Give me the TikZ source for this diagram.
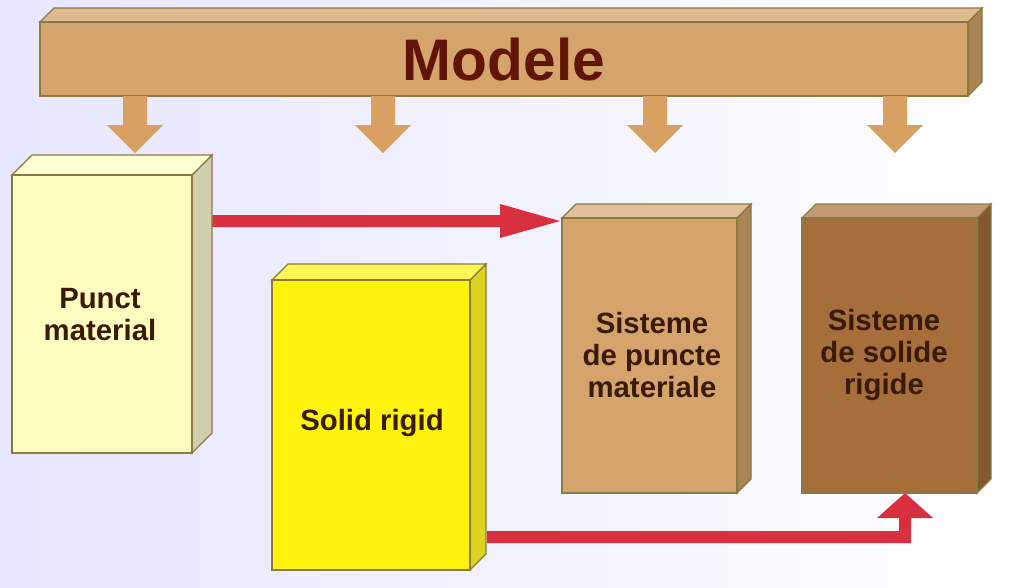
\documentclass[tikz,border=0pt]{standalone}
\usepackage{fontspec}
\setmainfont{Liberation Sans}
\definecolor{tan}{HTML}{D4A46C}
\definecolor{edge}{HTML}{8A7A40}
\definecolor{darktan}{HTML}{A56E3A}
\definecolor{redar}{HTML}{D9303F}
\definecolor{txt}{HTML}{3A1A0A}
\tikzset{lbl/.style={font=\bfseries\fontsize{22}{24}\selectfont,text=txt,align=center}}
\newcommand{\boxthree}[7]{% x1 y1 x2 y2 d front side
 \fill[#7,draw=edge,line width=1pt] (#3,#2)--(#3+#5,#2-#5)--(#3+#5,#4-#5)--(#3,#4)--cycle;
 \fill[#6!70!white,draw=edge,line width=1pt] (#1,#2)--(#1+#5,#2-#5)--(#3+#5,#2-#5)--(#3,#2)--cycle;
 \fill[#6,draw=edge,line width=1pt] (#1,#2) rectangle (#3,#4);}
\newcommand{\downar}[1]{\fill[tan!90!orange] (#1-12,96)--(#1+12,96)--(#1+12,125)--(#1+28,125)--(#1,153)--(#1-28,125)--(#1-12,125)--cycle;}
\begin{document}
\begin{tikzpicture}[x=0.75pt,y=-0.75pt]
\useasboundingbox (0,0) rectangle (1023,587);
\shade[left color=blue!10!white,right color=white] (0,0) rectangle (1023,587);
% Modele bar
\fill[tan!80!black,draw=edge,line width=1pt] (968,22)--(982,8)--(982,82)--(968,96)--cycle;
\fill[tan!75!white,draw=edge,line width=1pt] (40,22)--(54,8)--(982,8)--(968,22)--cycle;
\fill[tan,draw=edge,line width=1pt] (40,22) rectangle (968,96);
\node[font=\bfseries\fontsize{44}{48}\selectfont,text=txt!80!red] (modele) at (504,60) {Modele};
\downar{135}\downar{383}\downar{655}\downar{895}
% red arrow 1
\fill[redar] (212,215)--(500,215)--(500,204)--(560,221)--(500,238)--(500,227)--(212,227)--cycle;
% red arrow 2
\fill[redar] (487,531)--(899,531)--(899,518)--(877,518)--(905,493)--(933,518)--(911,518)--(911,543)--(487,543)--cycle;
% boxes
\boxthree{12}{175}{192}{453}{20}{yellow!25!white}{yellow!30!gray!60!white}
\node[lbl] (punct) at (100,315) {Punct\\material};
\boxthree{272}{280}{470}{570}{16}{yellow!95!white}{yellow!85!black}
\node[lbl] (solid) at (372,423) {Solid rigid};
\boxthree{562}{218}{737}{493}{14}{tan}{tan!80!black}
\node[lbl] (sp) at (652,355) {Sisteme\\de puncte\\materiale};
\boxthree{802}{218}{977}{493}{14}{darktan}{darktan!80!black}
\node[lbl] (ss) at (884,355) {Sisteme\\de solide\\rigide};
\end{tikzpicture}
\end{document}
